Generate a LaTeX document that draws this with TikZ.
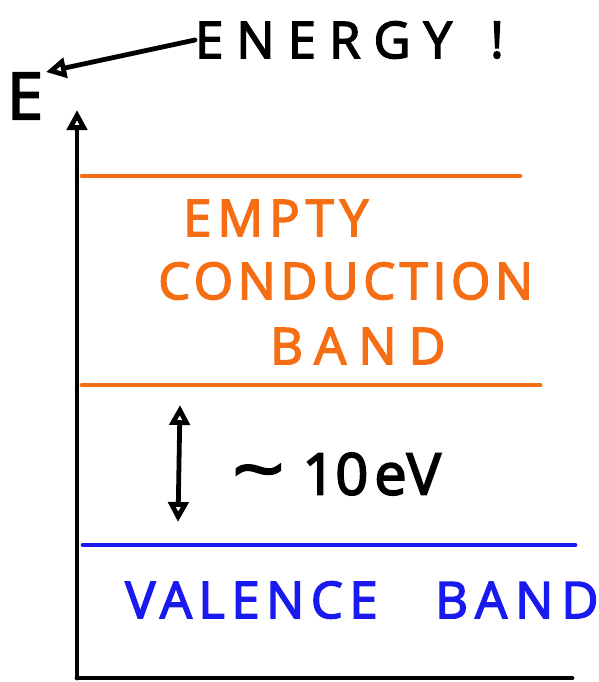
\documentclass[tikz,border=0pt]{standalone}
\usepackage{fontspec}
\setmainfont{Open Sans}
\usetikzlibrary{arrows.meta,positioning}
\definecolor{bandorange}{RGB}{245,110,20}
\definecolor{bandblue}{RGB}{25,25,240}
\tikzset{
  >={Triangle[open,length=5mm,width=5mm]},
  hand/.style={line width=3.4pt,line cap=round},
  bigtext/.style={font=\fontsize{36}{40}\selectfont\addfontfeature{FakeBold=3,LetterSpace=#1},inner sep=0pt},
  bigtext/.default=0,
}
\begin{document}
\begin{tikzpicture}[x=0.025cm,y=-0.025cm]
\useasboundingbox (0,0) rectangle (598,682);

% axes
\coordinate (origin) at (77,678);
\coordinate (ytop) at (77,110);
\coordinate (xend) at (572,678);
\draw[hand,->] (origin) -- (ytop);
\draw[hand] (origin) -- (xend);

% band edges
\coordinate (cbtopL) at (82,176);
\coordinate (cbtopR) at (520,176);
\coordinate (cbbotL) at (82,385);
\coordinate (cbbotR) at (540,385);
\coordinate (vbtopL) at (83,545);
\coordinate (vbtopR) at (575,545);
\draw[hand,bandorange] (cbtopL) -- (cbtopR);
\draw[hand,bandorange] (cbbotL) -- (cbbotR);
\draw[hand,bandblue] (vbtopL) -- (vbtopR);

% labels
\node[bigtext=12,text=bandorange,anchor=west] (empty) at (183,218) {EMPTY};
\node[bigtext=9,text=bandorange,anchor=west] (cond) at (158,281) {CONDUCTION};
\node[bigtext=24,text=bandorange,anchor=west] (cband) at (270,346) {BAND};
\node[bigtext=13,text=bandblue,anchor=west] (valence) at (125,600) {VALENCE};
\node[bigtext=16,text=bandblue,anchor=west] (vband) at (435,600) {BAND};

% gap
\coordinate (gaptop) at (180,405);
\coordinate (gapbot) at (178,522);
\draw[hand,<->] (gaptop) -- (gapbot);
\node[bigtext,anchor=west] (gap) at (232,474) {\scalebox{1.8}[1.4]{\symbol{"7E}}\hspace{0.45cm}{\fontsize{41}{44}\selectfont 10\hspace{0.15cm}eV}};

% energy
\node[bigtext,font=\fontsize{46}{50}\selectfont\addfontfeature{FakeBold=3}] (E) at (25,96) {E};
\node[bigtext=26,anchor=west] (energy) at (195,40) {ENERGY};
\node[bigtext] (bang) at (497,40) {!};
\draw[hand,->,shorten >=2pt] (energy.west) -- (E.north east);

\end{tikzpicture}
\end{document}
